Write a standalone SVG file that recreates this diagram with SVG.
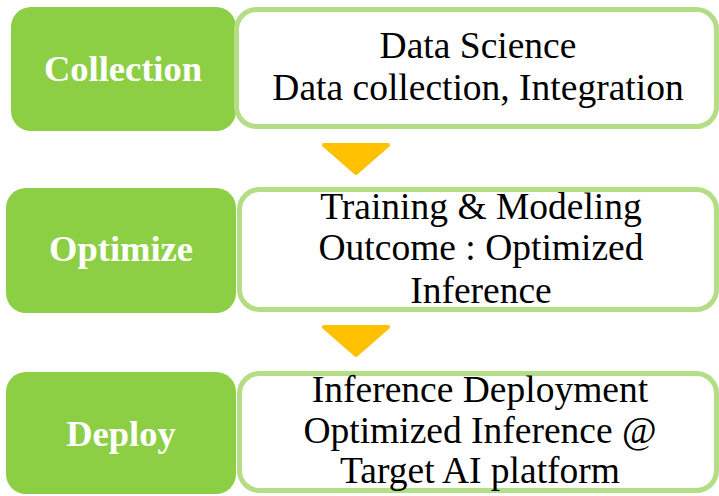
<svg xmlns="http://www.w3.org/2000/svg" width="719" height="496" viewBox="0 0 719 496">
<style>
.g{fill:#8ccf45}
.w{fill:#ffffff;stroke:#b3de86;stroke-width:5}
.lbl{font-family:"Liberation Serif","Times New Roman",serif;font-weight:bold;font-size:36.5px;fill:#ffffff;text-anchor:middle}
.t{font-family:"Liberation Serif","Times New Roman",serif;font-size:37.5px;fill:#000000;text-anchor:middle}
.arr{fill:#ffc000;stroke:#ffc000;stroke-width:4;stroke-linejoin:round}
</style>
<rect width="719" height="496" fill="#ffffff"/>
<g id="connectors">
<polygon class="arr" points="324,145 388,145 356,173"/>
<polygon class="arr" points="324,327 388,327 356,355"/>
</g>
<g id="collection">
<rect class="g" x="11" y="7" width="225" height="124" rx="20"/>
<text class="lbl" x="123" y="81">Collection</text>
</g>
<g id="collection-desc">
<rect class="w" x="236.5" y="9.5" width="480" height="117" rx="20"/>
<text class="t" x="478" y="58">Data Science</text>
<text class="t" x="478" y="100">Data collection, Integration</text>
</g>
<g id="optimize">
<rect class="g" x="6" y="188" width="230" height="125" rx="20"/>
<text class="lbl" x="121" y="261">Optimize</text>
</g>
<g id="optimize-desc">
<rect class="w" x="239.5" y="189.5" width="477" height="120" rx="20"/>
<text class="t" x="481" y="219">Training &amp; Modeling</text>
<text class="t" x="481" y="260">Outcome : Optimized</text>
<text class="t" x="481" y="303">Inference</text>
</g>
<g id="deploy">
<rect class="g" x="6" y="372" width="230" height="122" rx="20"/>
<text class="lbl" x="121" y="446">Deploy</text>
</g>
<g id="deploy-desc">
<rect class="w" x="239.5" y="373.5" width="477" height="117" rx="20"/>
<text class="t" x="480" y="402">Inference Deployment</text>
<text class="t" x="480" y="443">Optimized Inference @</text>
<text class="t" x="480" y="483">Target AI platform</text>
</g>
</svg>
